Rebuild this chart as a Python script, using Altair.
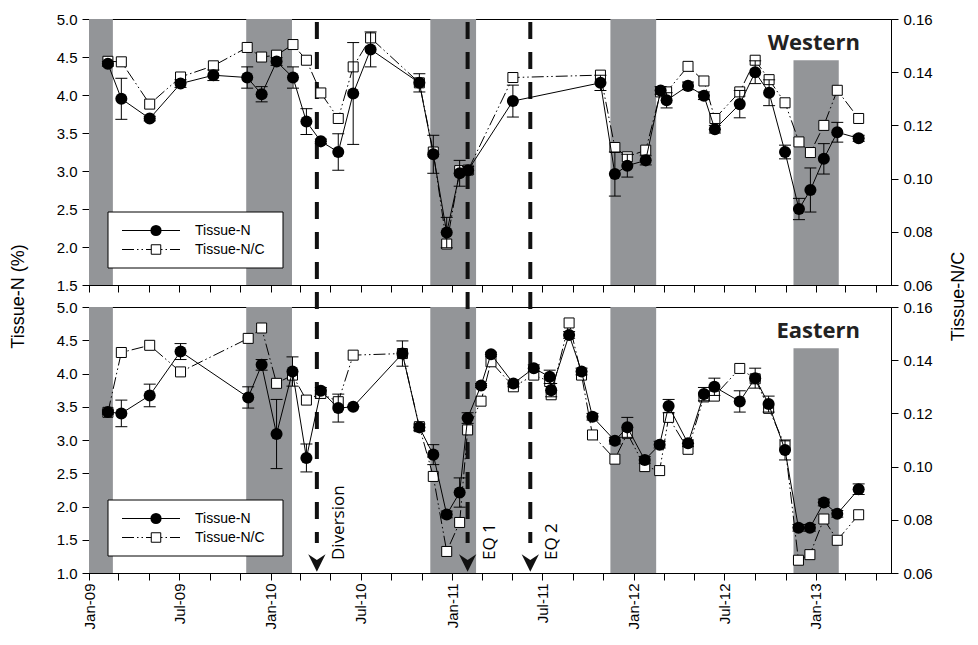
import altair as alt
import pandas as pd

# ---------------- data ----------------
west_dates = ["2009-02-08", "2009-03-07", "2009-05-03", "2009-07-04", "2009-09-08", "2009-11-15",
              "2009-12-14", "2010-01-13", "2010-02-15", "2010-03-14", "2010-04-12", "2010-05-17",
              "2010-06-16", "2010-07-21", "2010-10-27", "2010-11-24", "2010-12-21", "2011-01-16",
              "2011-02-02", "2011-05-03", "2011-10-26", "2011-11-24", "2011-12-19", "2012-01-25",
              "2012-02-24", "2012-03-07", "2012-04-19", "2012-05-21", "2012-06-12", "2012-08-01",
              "2012-09-01", "2012-09-29", "2012-10-31", "2012-11-28", "2012-12-21", "2013-01-17",
              "2013-02-13", "2013-03-28"]
west_n = [4.41, 3.95, 3.69, 4.15, 4.26, 4.23, 4.01, 4.44, 4.23, 3.65,
          3.39, 3.25, 4.02, 4.60, 4.16, 3.22, 2.19, 2.97, 3.01, 3.92,
          4.16, 2.96, 3.07, 3.14, 4.06, 3.93, 4.12, 3.99, 3.55, 3.88,
          4.30, 4.03, 3.25, 2.50, 2.75, 3.16, 3.51, 3.43]
west_n_err = [0.03, 0.27, 0.03, 0.05, 0.07, 0.14, 0.10, 0.05, 0.14, 0.17,
              0.03, 0.24, 0.67, 0.23, 0.12, 0.25, 0.20, 0.17, 0.05, 0.21,
              0.10, 0.29, 0.15, 0.06, 0.05, 0.10, 0.05, 0.05, 0.05, 0.18,
              0.15, 0.17, 0.09, 0.14, 0.29, 0.20, 0.13, 0.04]
west_nc = [0.1441, 0.1439, 0.1280, 0.1382, 0.1424, 0.1493, 0.1457, 0.1464, 0.1504, 0.1445,
           0.1322, 0.1226, 0.1420, 0.1529, 0.1360, 0.1100, 0.0754, 0.1030, 0.1032, 0.1380,
           0.1389, 0.1117, 0.1082, 0.1107, 0.1326, 0.1326, 0.1422, 0.1367, 0.1226, 0.1326,
           0.1445, 0.1372, 0.1285, 0.1138, 0.1098, 0.1200, 0.1332, 0.1226]

east_dates = ["2009-02-08", "2009-03-07", "2009-05-03", "2009-07-04", "2009-11-17", "2009-12-14",
              "2010-01-13", "2010-02-14", "2010-03-14", "2010-04-12", "2010-05-17", "2010-06-16",
              "2010-09-23", "2010-10-27", "2010-11-24", "2010-12-21", "2011-01-16", "2011-02-01",
              "2011-02-28", "2011-03-20", "2011-05-04", "2011-06-14", "2011-07-16", "2011-07-19",
              "2011-08-24", "2011-09-18", "2011-10-10", "2011-11-24", "2011-12-19", "2012-01-23",
              "2012-02-22", "2012-03-11", "2012-04-19", "2012-05-21", "2012-06-11", "2012-08-01",
              "2012-09-01", "2012-09-28", "2012-10-31", "2012-11-27", "2012-12-20", "2013-01-17",
              "2013-02-13", "2013-03-28"]
east_n = [3.42, 3.40, 3.67, 4.33, 3.64, 4.13, 3.09, 4.03, 2.73, 3.74,
          3.48, 3.50, 4.30, 3.19, 2.78, 1.88, 2.21, 3.33, 3.82, 4.29,
          3.85, 4.08, 3.95, 3.75, 4.58, 4.03, 3.35, 2.99, 3.19, 2.70,
          2.93, 3.51, 2.95, 3.69, 3.80, 3.58, 3.93, 3.54, 2.85, 1.68,
          1.68, 2.06, 1.89, 2.26]
east_n_err = [0.03, 0.20, 0.17, 0.12, 0.16, 0.08, 0.52, 0.22, 0.21, 0.05,
              0.21, 0.00, 0.19, 0.05, 0.15, 0.05, 0.22, 0.08, 0.03, 0.03,
              0.05, 0.05, 0.10, 0.10, 0.05, 0.05, 0.05, 0.05, 0.15, 0.05,
              0.05, 0.10, 0.05, 0.10, 0.13, 0.16, 0.15, 0.12, 0.15, 0.05,
              0.05, 0.05, 0.05, 0.08]
east_nc = [0.1204, 0.1429, 0.1456, 0.1356, 0.1482, 0.1521, 0.1313, 0.1344, 0.1250, 0.1275,
           0.1244, 0.1419, 0.1425, 0.1150, 0.0963, 0.0681, 0.0790, 0.1138, 0.1246, 0.1394,
           0.1300, 0.1344, 0.1320, 0.1270, 0.1540, 0.1344, 0.1119, 0.1028, 0.1125, 0.1000,
           0.0985, 0.1185, 0.1065, 0.1262, 0.1265, 0.1369, 0.1330, 0.1219, 0.1078, 0.0648,
           0.0669, 0.0803, 0.0723, 0.0819]

band_start = ["2009-01-01", "2009-11-13", "2010-11-18", "2011-11-15", "2012-11-17"]
band_end = ["2009-02-18", "2010-02-13", "2011-02-18", "2012-02-15", "2013-02-16"]
band_top = [0.16, 0.16, 0.16, 0.16, 0.1445]  # in Tissue-N/C units

event_dates = ["2010-04-04", "2011-02-01", "2011-06-07"]
event_labels = ["Diversion", "EQ 1", "EQ 2"]

n_ticks_top = [1.5, 2.0, 2.5, 3.0, 3.5, 4.0, 4.5, 5.0]
n_ticks_bottom = [1.0, 1.5, 2.0, 2.5, 3.0, 3.5, 4.0, 4.5, 5.0]
nc_ticks = [0.06, 0.08, 0.10, 0.12, 0.14, 0.16]

# ---------------- style ----------------
W, H, GAP = 802, 266, 22
FONT = "Liberation Sans"
TFONT = "Open Sans"
GREY = "#939598"
NC_DASH = [12, 3, 1.5, 3, 1.5, 3]
EV_DASH = [17, 13]
CHEVRON = "M-1,-1L0,1L1,-1L0,-0.35Z"

x_ticks = [alt.DateTime(year=y, month=m, date=1, utc=True)
           for y in range(2009, 2014) for m in (1, 3, 5, 7, 9, 11)
           if not (y == 2013 and m > 5)]
x_scale = alt.Scale(type="utc",
                    domain=[alt.DateTime(year=2009, month=1, date=1, utc=True),
                            alt.DateTime(year=2013, month=6, date=1, utc=True)])
LBL = "utcmonth(datum.value) % 6 == 0 ? utcFormat(datum.value, '%b-%y') : ''"


def panel(dates, n, err, nc, ndom, nvals, name, top):
    df = pd.DataFrame({
        "date": dates, "n": n, "nc": nc,
        "lo": [a - b for a, b in zip(n, err)],
        "hi": [a + b for a, b in zip(n, err)],
    })
    bands = pd.DataFrame({"start": band_start, "end": band_end, "top": band_top})
    ev = pd.DataFrame({"date": event_dates, "label": event_labels})
    one = pd.DataFrame({"label": [name]})

    x_axis = alt.Axis(values=x_ticks, labels=not top, labelExpr=LBL, labelAngle=270,
                      labelFlush=False, labelPadding=3, tickSize=7, grid=False,
                      labelOverlap=False)

    def xe(f):
        return alt.X(f"{f}:T", scale=x_scale, axis=x_axis, title=None)

    if top:
        n_axis = alt.Axis(values=nvals, format=".1f", orient="left", tickSize=7, labelPadding=5,
                          grid=False, titleX=-71, titleY=H + GAP / 2, titleAngle=270,
                          titleBaseline="middle", titleAlign="center")
        nc_axis = alt.Axis(values=nc_ticks, format=".2f", orient="right", tickSize=7,
                           labelPadding=5, grid=False, titleX=67, titleY=H + GAP / 2,
                           titleAngle=270, titleBaseline="middle", titleAlign="center")
        n_title, nc_title = "Tissue-N (%)", "Tissue-N/C"
    else:
        n_axis = alt.Axis(values=nvals, format=".1f", orient="left", tickSize=7, labelPadding=5,
                          grid=False)
        nc_axis = alt.Axis(values=nc_ticks, format=".2f", orient="right", tickSize=7,
                           labelPadding=5, grid=False)
        n_title, nc_title = None, None

    def yn(f):
        return alt.Y(f"{f}:Q", scale=alt.Scale(domain=ndom, nice=False, zero=False),
                     axis=n_axis, title=n_title)

    def ync(f):
        return alt.Y(f"{f}:Q", scale=alt.Scale(domain=[0.06, 0.16], nice=False, zero=False),
                     axis=nc_axis, title=nc_title)

    # ---- N/C group (right axis) ----
    band_layer = alt.Chart(bands).mark_rect(color=GREY, opacity=1).encode(
        x=xe("start"), x2="end:T", y=ync("top"), y2=alt.datum(0.06))
    if top:
        ev_rule = alt.Chart(ev).mark_rule(color="#111111", strokeWidth=4, strokeDash=EV_DASH,
                                          strokeDashOffset=27).encode(
            x=xe("date"), y=alt.value(0), y2=alt.value(H + GAP))
    else:
        ev_rule = alt.Chart(ev).mark_rule(color="#111111", strokeWidth=4, strokeDash=EV_DASH,
                                          strokeDashOffset=15).encode(
            x=xe("date"), y=alt.value(0), y2=alt.value(H - 30))
    nc_line = alt.Chart(df).mark_line(color="black", strokeWidth=1, strokeDash=NC_DASH).encode(
        x=xe("date"), y=ync("nc"))
    nc_pts = alt.Chart(df).mark_point(shape="square", filled=True, fill="white", stroke="black",
                                      strokeWidth=1, size=100, opacity=1).encode(
        x=xe("date"), y=ync("nc"))
    nc_group = alt.layer(band_layer, ev_rule, nc_line, nc_pts)

    # ---- N group (left axis) ----
    n_line = alt.Chart(df).mark_line(color="black", strokeWidth=1).encode(x=xe("date"), y=yn("n"))
    err_rule = alt.Chart(df).mark_rule(color="black", strokeWidth=1).encode(
        x=xe("date"), y=yn("lo"), y2="hi:Q")
    cap_lo = alt.Chart(df).mark_tick(orient="horizontal", size=12, thickness=1, color="black",
                                     opacity=1).encode(x=xe("date"), y=yn("lo"))
    cap_hi = alt.Chart(df).mark_tick(orient="horizontal", size=12, thickness=1, color="black",
                                     opacity=1).encode(x=xe("date"), y=yn("hi"))
    n_pts = alt.Chart(df).mark_point(shape="circle", filled=True, color="black", size=145,
                                     opacity=1).encode(x=xe("date"), y=yn("n"))

    # legend
    lg = alt.Chart(pd.DataFrame({"k": [0]}))
    box = lg.mark_rect(fill="white", stroke="black", strokeWidth=1).encode(
        x=alt.value(19), x2=alt.value(194), y=alt.value(193), y2=alt.value(249))
    l1 = lg.mark_rule(color="black", strokeWidth=1).encode(
        x=alt.value(33), x2=alt.value(91), y=alt.value(211.5))
    p1 = lg.mark_point(shape="circle", filled=True, color="black", size=125, opacity=1).encode(
        x=alt.value(67), y=alt.value(211.5))
    t1 = lg.mark_text(text="Tissue-N", align="left", baseline="middle", font=FONT,
                      fontSize=14, color="black").encode(x=alt.value(106), y=alt.value(211.5))
    l2 = lg.mark_rule(color="black", strokeWidth=1, strokeDash=NC_DASH).encode(
        x=alt.value(33), x2=alt.value(91), y=alt.value(230.5))
    p2 = lg.mark_point(shape="square", filled=True, fill="white", stroke="black", strokeWidth=1,
                       size=90, opacity=1).encode(x=alt.value(67), y=alt.value(230.5))
    t2 = lg.mark_text(text="Tissue-N/C", align="left", baseline="middle", font=FONT,
                      fontSize=14, color="black").encode(x=alt.value(106), y=alt.value(230.5))

    site = alt.Chart(one).mark_text(align="right", baseline="alphabetic", font=TFONT,
                                    fontSize=22, fontWeight="bold", color="#222222").encode(
        text="label:N", x=alt.value(W - 31), y=alt.value(31))

    layers = [n_line, err_rule, cap_lo, cap_hi, n_pts, box, l1, l2, p1, p2, t1, t2, site]
    if not top:
        arrows = alt.Chart(ev).mark_point(shape=CHEVRON, filled=True, color="#111111", size=300,
                                          opacity=1).encode(x=xe("date"), y=alt.value(H - 10))
        ev_text = alt.Chart(ev).mark_text(angle=270, align="left", baseline="middle", dy=22,
                                          font=TFONT, fontSize=17, color="black").encode(
            x=xe("date"), y=alt.value(H - 13), text="label:N")
        layers += [arrows, ev_text]
    n_group = alt.layer(*layers)

    return alt.layer(nc_group, n_group).resolve_scale(y="independent").properties(
        width=W, height=H)


top_panel = panel(west_dates, west_n, west_n_err, west_nc, [1.5, 5.0], n_ticks_top, "Western", True)
bottom_panel = panel(east_dates, east_n, east_n_err, east_nc, [1.0, 5.0], n_ticks_bottom,
                     "Eastern", False)

chart = alt.vconcat(top_panel, bottom_panel, spacing=GAP, bounds="flush").properties(
    padding={"left": 0, "right": 2, "top": 3, "bottom": 2}
).configure_view(stroke="black", strokeWidth=1).configure_axis(
    domainColor="black", tickColor="black", labelColor="black", titleColor="black",
    labelFont=FONT, labelFontSize=15, titleFont=FONT, titleFontSize=18,
    titleFontWeight="normal", grid=False)

chart.save("out.html", embed_options={"renderer": "svg", "actions": False})
